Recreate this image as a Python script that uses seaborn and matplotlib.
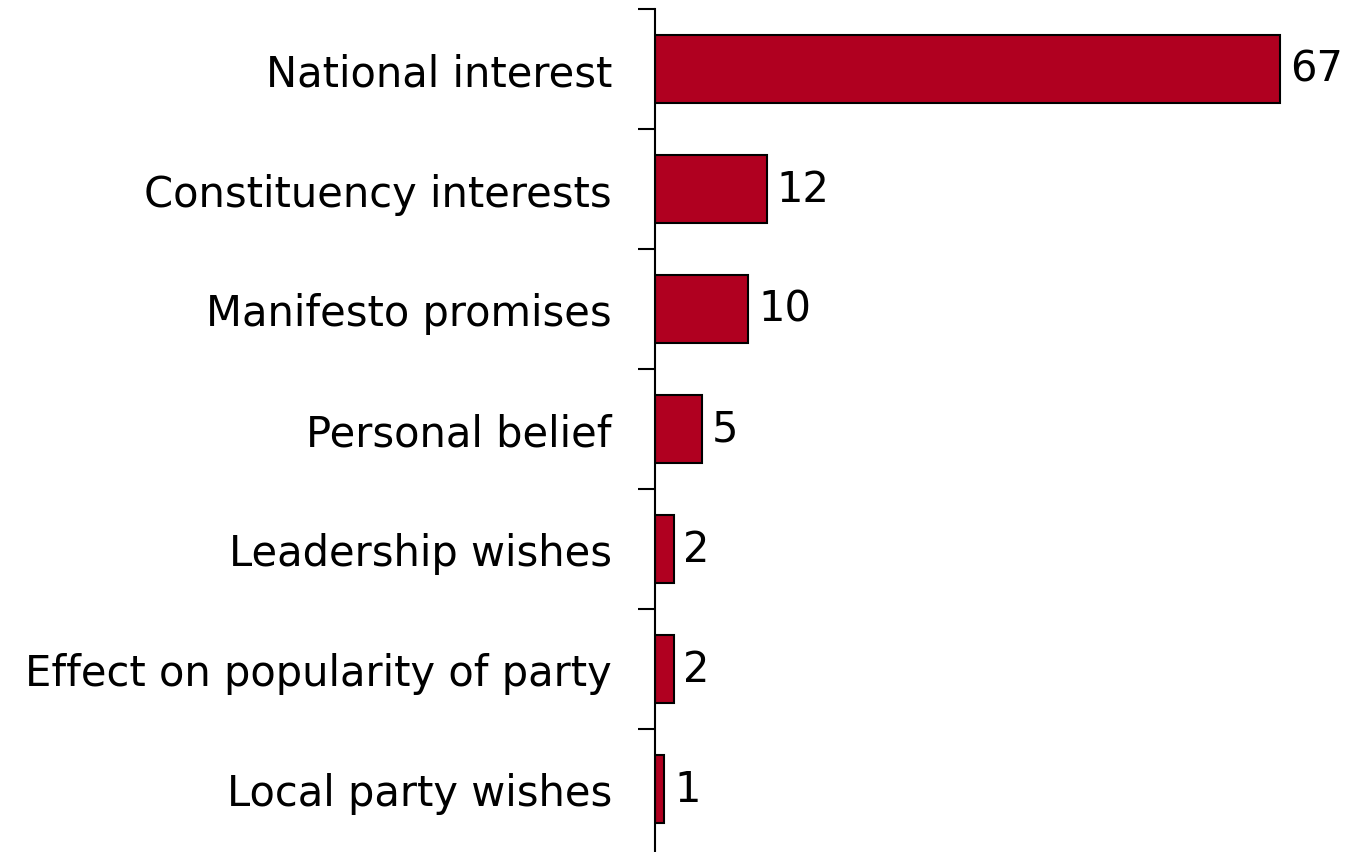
import matplotlib
matplotlib.use("Agg")
import matplotlib.pyplot as plt
import seaborn as sns
import pandas as pd
import numpy as np

categories = ["National interest", "Constituency interests", "Manifesto promises",
              "Personal belief", "Leadership wishes", "Effect on popularity of party",
              "Local party wishes"]
values = [67, 12, 10, 5, 2, 2, 1]

sns.set_style("white")
plt.rcParams['font.family'] = ['DejaVu Sans']
plt.rcParams['text.color'] = 'black'
plt.rcParams['ytick.color'] = 'black'
plt.rcParams['ytick.labelcolor'] = 'black'

df = pd.DataFrame({"category": categories, "value": values})

fig = plt.figure(figsize=(13.47, 8.53), dpi=100)
ax = fig.add_axes([655/1347, 0.0, 1 - 655/1347, 1 - 10/853])

sns.barplot(data=df, x="value", y="category", orient="h", color="#B00020",
            saturation=1, width=0.57, edgecolor="black", linewidth=1.5, ax=ax)

ax.set_xlim(0, (1347 - 655) / 9.33)
ax.set_ylim(6.525, -0.5)
ax.set_xlabel("")
ax.set_ylabel("")
ax.set_xticks([])

for c in ax.containers:
    ax.bar_label(c, labels=[str(v) for v in values], padding=7, fontsize=30, color="black")

ax.tick_params(axis="y", which="major", left=True, length=0, pad=31, labelsize=30,
               labelcolor="black")
ax.set_yticks(np.arange(-0.5, 6.0, 1), minor=True)
ax.tick_params(axis="y", which="minor", left=True, length=12, width=1.5,
               direction="out", color="black")

for s in ["top", "right", "bottom"]:
    ax.spines[s].set_visible(False)
ax.spines["left"].set_color("black")
ax.spines["left"].set_linewidth(1.5)

fig.savefig("out.png", dpi=100)
